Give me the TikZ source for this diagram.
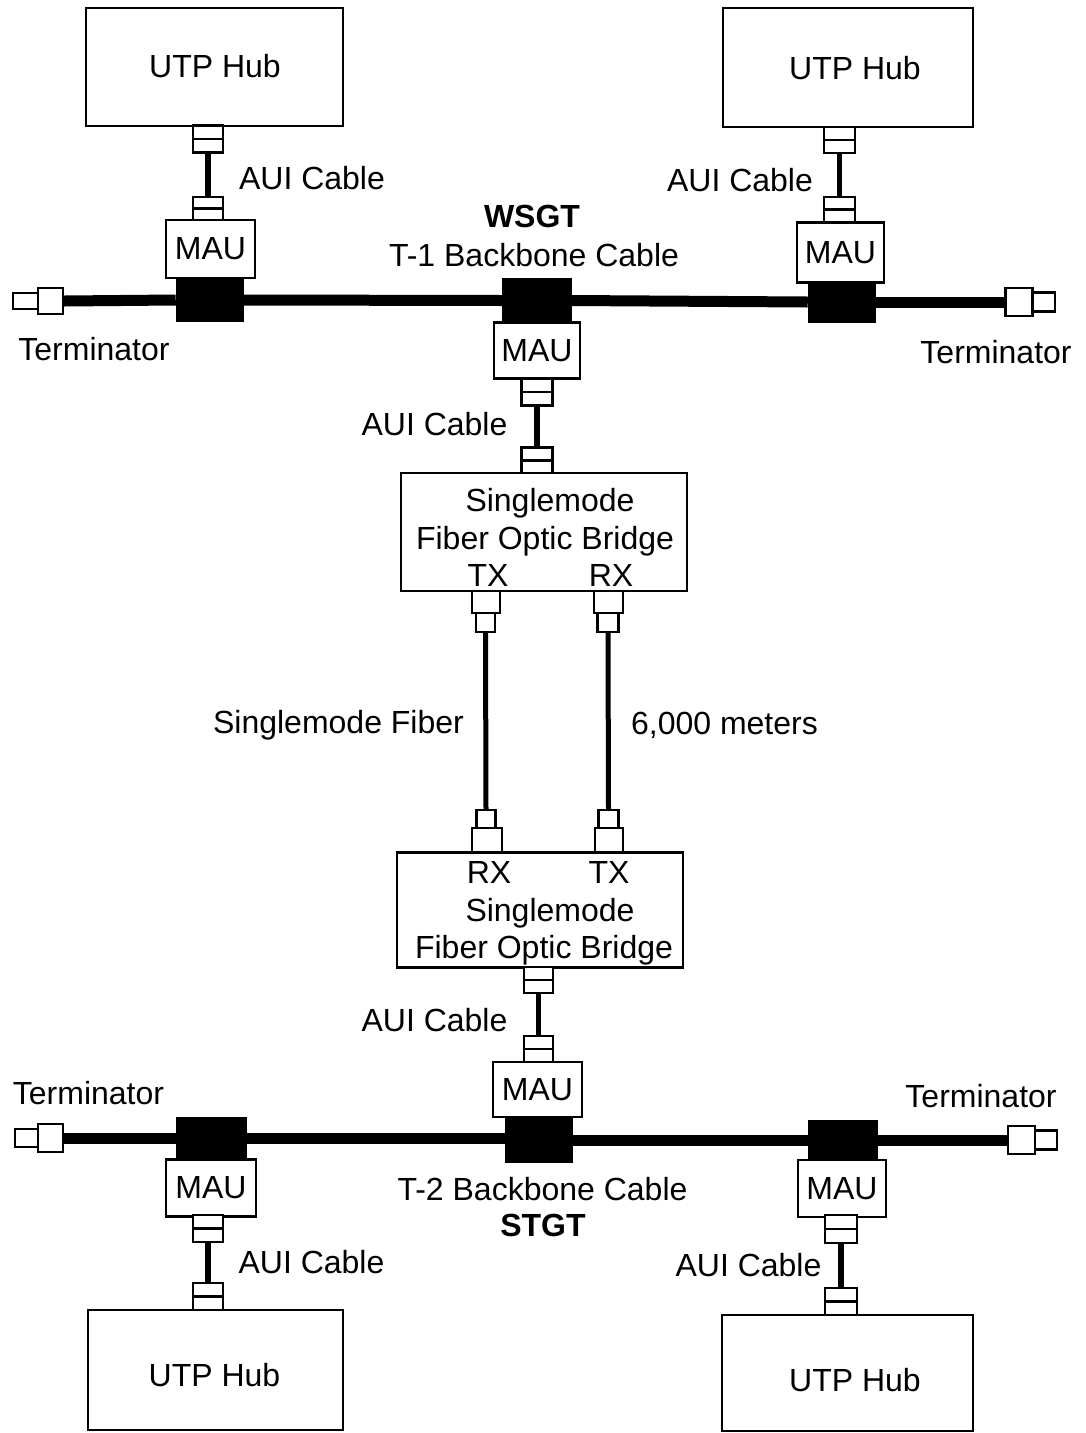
\documentclass[tikz,border=0pt]{standalone}
\usepackage{fontspec}
\setmainfont{Liberation Sans}
\begin{document}
\begin{tikzpicture}[x=1pt,y=-1pt,
  every node/.style={font=\fontsize{32pt}{38pt}\selectfont},
  box/.style={draw, line width=2.6pt, fill=white, inner sep=0pt},
  tapblk/.style={fill=black, draw=black, line width=0.5pt, inner sep=0pt},
  plug/.style={draw, fill=white, line width=2.3pt, inner sep=0pt,
    path picture={\draw[line width=2.3pt] (path picture bounding box.west) -- (path picture bounding box.east);}},
  sq/.style={draw, fill=white, line width=2.3pt, inner sep=0pt},
  lbl/.style={inner sep=0pt, text height=23pt, text depth=0pt},
  coax/.style={line width=11pt},
  aui/.style={line width=5.5pt},
  fiber/.style={line width=5pt}]
\fill[white] (0,0) rectangle (1085,1433);
\useasboundingbox (0,0) rectangle (1085,1433);

% ---------------- Hubs ----------------
\node[box, minimum width=257pt, minimum height=118pt] (hubTL) at (214.5,67) {};
\node[lbl] (hubTLt) at (215,66) {UTP Hub};
\node[box, minimum width=250pt, minimum height=119pt] (hubTR) at (848,67.5) {};
\node[lbl] (hubTRt) at (855,68) {UTP Hub};
\node[box, minimum width=255pt, minimum height=120pt] (hubBL) at (215.5,1370) {};
\node[lbl] (hubBLt) at (214.5,1375) {UTP Hub};
\node[box, minimum width=251pt, minimum height=116pt] (hubBR) at (847.5,1373) {};
\node[lbl] (hubBRt) at (855,1380) {UTP Hub};

% ---------------- Top backbone ----------------
\node[tapblk, minimum width=67pt, minimum height=42pt] (tapTL) at (209.5,300) {};
\node[tapblk, minimum width=69pt, minimum height=44pt] (tapTC) at (537,300.5) {};
\node[tapblk, minimum width=67pt, minimum height=40pt] (tapTR) at (841.5,302) {};
\node[sq, minimum width=25pt, minimum height=26pt] (termTLb) at (50.5,301) {};
\node[sq, minimum width=25pt, minimum height=16pt] (termTLs) at (25.5,301) {};
\node[sq, minimum width=27pt, minimum height=28pt] (termTRb) at (1019,302) {};
\node[sq, minimum width=22pt, minimum height=19pt] (termTRs) at (1044,302) {};
\draw[coax] (termTLb.east) -- (tapTL.west);
\draw[coax] (tapTL.east) -- (tapTC.west);
\draw[coax] (tapTC.east) -- (tapTR.west);
\draw[coax] (tapTR.east) -- (termTRb.west);

\node[box, minimum width=89pt, minimum height=58pt] (mauTL) at (210.5,249) {MAU};
\node[box, minimum width=87pt, minimum height=60pt] (mauTR) at (840.5,252.5) {MAU};
\node[box, minimum width=86pt, minimum height=56pt] (mauTC) at (537,350.5) {MAU};

% AUI cables top
\node[plug, minimum width=30pt, minimum height=27pt] (pTL1) at (208,139) {};
\node[plug, minimum width=30pt, minimum height=23pt] (pTL2) at (208,208.5) {};
\draw[aui] (pTL1.south) -- (pTL2.north);
\node[plug, minimum width=31pt, minimum height=26pt] (pTR1) at (839.5,140) {};
\node[plug, minimum width=31pt, minimum height=25pt] (pTR2) at (839.5,209.5) {};
\draw[aui] (pTR1.south) -- (pTR2.north);
\node[plug, minimum width=31pt, minimum height=27pt] (pTC1) at (537,392) {};
\node[plug, minimum width=31pt, minimum height=26pt] (pTC2) at (537,460.5) {};
\draw[aui] (pTC1.south) -- (pTC2.north);

% ---------------- Bridges ----------------
\node[box, minimum width=286pt, minimum height=118pt] (br1) at (544,532) {};
\node[lbl] (br1a) at (550,500) {Singlemode};
\node[lbl] (br1b) at (545,538) {Fiber Optic Bridge};
\node[lbl] (br1tx) at (488,575) {TX};
\node[lbl] (br1rx) at (611,575) {RX};

\node[box, minimum width=286pt, minimum height=115pt] (br2) at (540,910) {};
\node[lbl] (br2rx) at (489,872) {RX};
\node[lbl] (br2tx) at (609,872) {TX};
\node[lbl] (br2a) at (550,910) {Singlemode};
\node[lbl] (br2b) at (544,947) {Fiber Optic Bridge};

% fiber connectors
\node[sq, minimum width=28pt, minimum height=22pt] (fTXw) at (486,602) {};
\node[sq, minimum width=19pt, minimum height=19pt] (fTXn) at (485.5,622.5) {};
\node[sq, minimum width=29pt, minimum height=22pt] (fRXw) at (608.5,602) {};
\node[sq, minimum width=21pt, minimum height=19pt] (fRXn) at (608,622.5) {};
\node[sq, minimum width=30pt, minimum height=24pt] (gRXw) at (487,840) {};
\node[sq, minimum width=19pt, minimum height=18pt] (gRXn) at (486,819) {};
\node[sq, minimum width=28pt, minimum height=24pt] (gTXw) at (609,840) {};
\node[sq, minimum width=20pt, minimum height=18pt] (gTXn) at (608.5,819) {};
\draw[fiber] (fTXn.south) -- (gRXn.north);
\draw[fiber] (fRXn.south) -- (gTXn.north);

% ---------------- Bottom backbone ----------------
\node[plug, minimum width=29pt, minimum height=26pt] (pBC1) at (538.5,980) {};
\node[plug, minimum width=29pt, minimum height=26pt] (pBC2) at (538.5,1049) {};
\draw[aui] (pBC1.south) -- (pBC2.north);
\node[box, minimum width=89pt, minimum height=55pt] (mauBC) at (537.5,1089.5) {MAU};

\node[tapblk, minimum width=70pt, minimum height=43pt] (tapBL) at (211,1138.5) {};
\node[tapblk, minimum width=67pt, minimum height=45pt] (tapBC) at (538.5,1139.5) {};
\node[tapblk, minimum width=69pt, minimum height=40pt] (tapBR) at (842.5,1140) {};
\node[sq, minimum width=25pt, minimum height=28pt] (termBLb) at (50.5,1138) {};
\node[sq, minimum width=23pt, minimum height=18pt] (termBLs) at (26.5,1138) {};
\node[sq, minimum width=27pt, minimum height=28pt] (termBRb) at (1021.5,1140) {};
\node[sq, minimum width=22pt, minimum height=19pt] (termBRs) at (1046,1140) {};
\draw[coax] (termBLb.east) -- (termBLb.east -| tapBL.west);
\draw[coax] (tapBL.east |- termBLb.east) -- (tapBC.west |- termBLb.east);
\draw[coax] (tapBC.east |- termBRb.west) -- (tapBR.west |- termBRb.west);
\draw[coax] (tapBR.east |- termBRb.west) -- (termBRb.west);

\node[box, minimum width=90pt, minimum height=57pt] (mauBL) at (211,1188) {MAU};
\node[box, minimum width=88pt, minimum height=57pt] (mauBR) at (842,1188.5) {MAU};

\node[plug, minimum width=30pt, minimum height=27pt] (pBL1) at (208,1228.5) {};
\node[plug, minimum width=30pt, minimum height=27pt] (pBL2) at (208,1296.5) {};
\draw[aui] (pBL1.south) -- (pBL2.north);
\node[plug, minimum width=32pt, minimum height=28pt] (pBR1) at (841,1229) {};
\node[plug, minimum width=32pt, minimum height=27pt] (pBR2) at (841,1301.5) {};
\draw[aui] (pBR1.south) -- (pBR2.north);

% ---------------- Labels ----------------
\node[lbl] (lAUI1) at (312,178) {AUI Cable};
\node[lbl] (lAUI2) at (740,180) {AUI Cable};
\node[lbl, font=\fontsize{32pt}{38pt}\selectfont\bfseries] (lWSGT) at (532,216) {WSGT};
\node[lbl] (lT1) at (534,255) {T-1 Backbone Cable};
\node[lbl] (lTerm1) at (94,349) {Terminator};
\node[lbl] (lTerm2) at (996,352) {Terminator};
\node[lbl] (lAUI3) at (434.5,424) {AUI Cable};
\node[lbl] (lSMF) at (338.5,722) {Singlemode Fiber};
\node[lbl] (lDist) at (724.5,723) {6,000 meters};
\node[lbl] (lAUI4) at (434.5,1020) {AUI Cable};
\node[lbl] (lTerm3) at (88.5,1093) {Terminator};
\node[lbl] (lTerm4) at (981,1096) {Terminator};
\node[lbl] (lT2) at (542.5,1189) {T-2 Backbone Cable};
\node[lbl, font=\fontsize{32pt}{38pt}\selectfont\bfseries] (lSTGT) at (543,1225) {STGT};
\node[lbl] (lAUI5) at (311.5,1262) {AUI Cable};
\node[lbl] (lAUI6) at (748.5,1265) {AUI Cable};
\end{tikzpicture}
\end{document}
